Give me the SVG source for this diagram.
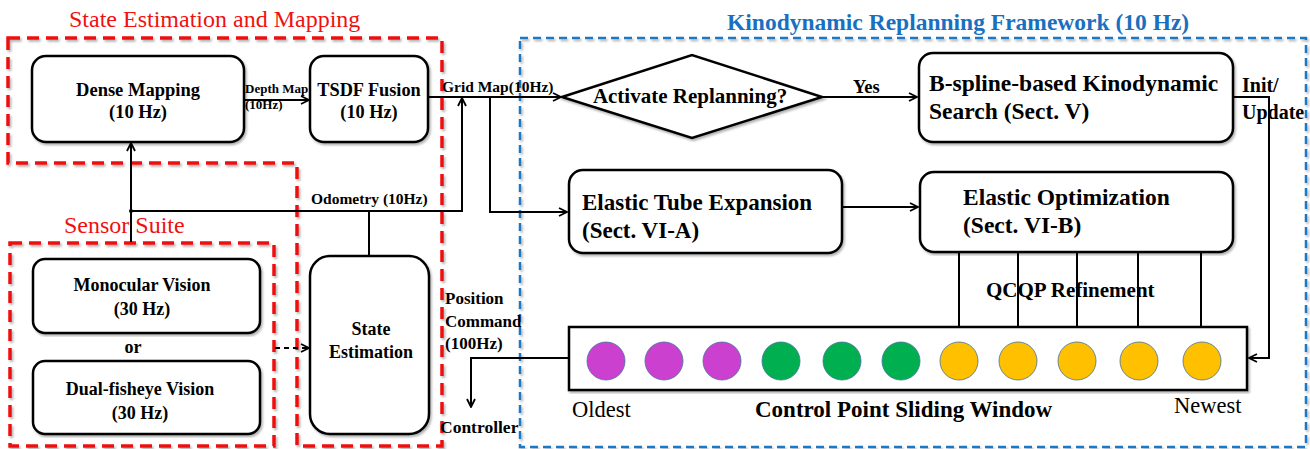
<svg xmlns="http://www.w3.org/2000/svg" width="1310" height="449" viewBox="0 0 1310 449">
<style>
text{font-family:"Liberation Serif","Times New Roman",serif;fill:#000}
.b{font-weight:bold}
.box{fill:#fff;stroke:#000;stroke-width:2.5;filter:url(#sh)}
.ln{fill:none;stroke:#000;stroke-width:2}
.red{fill:none;stroke:#f01010;stroke-width:3.5;stroke-dasharray:12 7;filter:url(#sh)}
.blue{fill:none;stroke:#1f77c4;stroke-width:2.5;stroke-dasharray:8 5;filter:url(#sh)}
.rt{fill:#f01010}
.mag{fill:#cc40d0;stroke:#41719c;stroke-width:0.8}
.grn{fill:#00b050;stroke:#41719c;stroke-width:0.8}
.yel{fill:#ffc000;stroke:#41719c;stroke-width:0.8}
</style>
<defs>
<filter id="sh" x="-5%" y="-5%" width="110%" height="110%">
<feDropShadow dx="1.5" dy="2" stdDeviation="1.2" flood-color="#000" flood-opacity="0.3"/>
</filter>
<marker id="ar" viewBox="0 0 10 10" refX="9" refY="5" markerWidth="10" markerHeight="10" markerUnits="userSpaceOnUse" orient="auto">
<path d="M1,1 L9,5 L1,9" fill="none" stroke="#000" stroke-width="1.8"/>
</marker>
</defs>

<g id="regions">
<path class="red" d="M8,38 H442 V446 H297 V163 H8 Z"/>
<rect class="red" x="10" y="243" width="264" height="203"/>
<rect class="blue" x="520" y="38" width="786" height="409"/>
<text class="rt" x="69" y="27" font-size="24" style="fill:#f01010">State Estimation and Mapping</text>
<text x="64" y="233" font-size="24" style="fill:#f01010">Sensor Suite</text>
<text class="b" x="727" y="30" font-size="23.5" style="fill:#1a70c0">Kinodynamic Replanning Framework (10 Hz)</text>
</g>

<g id="connectors">
<line class="ln" x1="244" y1="100" x2="309" y2="100" marker-end="url(#ar)"/>
<line class="ln" x1="428" y1="97" x2="561" y2="97" marker-end="url(#ar)"/>
<polyline class="ln" points="131,211 462,211 462,98" marker-end="url(#ar)"/>
<line class="ln" x1="131" y1="242" x2="131" y2="143" marker-end="url(#ar)"/>
<circle cx="131" cy="211" r="2" fill="#000"/>
<line class="ln" x1="369" y1="211" x2="369" y2="256"/>
<polyline class="ln" points="490,97 490,212 567,212" marker-end="url(#ar)"/>
<line class="ln" x1="822" y1="97" x2="917" y2="97" marker-end="url(#ar)"/>
<polyline class="ln" points="1233,97 1269,97 1269,358 1249,358" marker-end="url(#ar)"/>
<line class="ln" x1="842" y1="207" x2="918" y2="207" marker-end="url(#ar)"/>
<line class="ln" x1="959" y1="252" x2="959" y2="327"/>
<line class="ln" x1="1018" y1="252" x2="1018" y2="327"/>
<line class="ln" x1="1077" y1="252" x2="1077" y2="327"/>
<line class="ln" x1="1138" y1="252" x2="1138" y2="327"/>
<line class="ln" x1="1201" y1="252" x2="1201" y2="327"/>
<polyline class="ln" points="569,358 471,358 471,407" marker-end="url(#ar)"/>
<line class="ln" x1="275" y1="348" x2="309" y2="348" stroke-dasharray="5 4" marker-end="url(#ar)"/>
<text class="b" x="245" y="93" font-size="13">Depth Map</text>
<text class="b" x="245" y="109" font-size="13">(10Hz)</text>
<text class="b" x="442" y="92" font-size="15.5">Grid Map(10Hz)</text>
<text class="b" x="311" y="204" font-size="15.5">Odometry (10Hz)</text>
<text class="b" x="853" y="93" font-size="18.5">Yes</text>
<text class="b" x="1242" y="92" font-size="20">Init/</text>
<text class="b" x="1242" y="119" font-size="20">Update</text>
<text class="b" x="986" y="297" font-size="21">QCQP Refinement</text>
<text class="b" x="445" y="304" font-size="17">Position</text>
<text class="b" x="445" y="327" font-size="17">Command</text>
<text class="b" x="445" y="349" font-size="17">(100Hz)</text>
<text class="b" x="440" y="433" font-size="17.5">Controller</text>
</g>

<g id="dense-mapping">
<rect class="box" x="32" y="56" width="212" height="86" rx="14"/>
<text class="b" x="138" y="96" font-size="18.5" text-anchor="middle">Dense Mapping</text>
<text class="b" x="138" y="118" font-size="18.5" text-anchor="middle">(10 Hz)</text>
</g>
<g id="tsdf-fusion">
<rect class="box" x="310" y="56" width="118" height="86" rx="14"/>
<text class="b" x="369" y="96" font-size="18.3" text-anchor="middle">TSDF Fusion</text>
<text class="b" x="369" y="118" font-size="18.3" text-anchor="middle">(10 Hz)</text>
</g>
<g id="monocular">
<rect class="box" x="33" y="259" width="227" height="74" rx="12"/>
<text class="b" x="142" y="291" font-size="18" text-anchor="middle">Monocular Vision</text>
<text class="b" x="142" y="315" font-size="18" text-anchor="middle">(30 Hz)</text>
</g>
<g id="or">
<text class="b" x="133" y="353" font-size="18" text-anchor="middle">or</text>
</g>
<g id="dual-fisheye">
<rect class="box" x="33" y="361" width="227" height="73" rx="12"/>
<text class="b" x="140" y="395" font-size="18" text-anchor="middle">Dual-fisheye Vision</text>
<text class="b" x="140" y="419" font-size="18" text-anchor="middle">(30 Hz)</text>
</g>
<g id="state-estimation">
<rect class="box" x="310" y="256" width="119" height="178" rx="20"/>
<text class="b" x="371" y="335" font-size="18" text-anchor="middle">State</text>
<text class="b" x="371" y="358" font-size="18" text-anchor="middle">Estimation</text>
</g>
<g id="activate-replanning">
<polygon class="box" points="562,97 692,55 822,97 692,138"/>
<text class="b" x="690" y="103" font-size="21" text-anchor="middle">Activate Replanning?</text>
</g>
<g id="bspline-search">
<rect class="box" x="919" y="53" width="314" height="89" rx="14"/>
<text class="b" x="929" y="91" font-size="23.5">B-spline-based Kinodynamic</text>
<text class="b" x="929" y="119" font-size="23.5">Search (Sect. V)</text>
</g>
<g id="elastic-tube">
<rect class="box" x="569" y="170" width="273" height="83" rx="14"/>
<text class="b" x="582" y="210" font-size="23">Elastic Tube Expansion</text>
<text class="b" x="582" y="238" font-size="23">(Sect. VI-A)</text>
</g>
<g id="elastic-optimization">
<rect class="box" x="920" y="172" width="313" height="80" rx="14"/>
<text class="b" x="963" y="205" font-size="23.5">Elastic Optimization</text>
<text class="b" x="963" y="233" font-size="23.5">(Sect. VI-B)</text>
</g>
<g id="sliding-window">
<rect class="box" x="569" y="327" width="678" height="63" rx="0"/>
<circle class="mag" cx="606" cy="361" r="19"/>
<circle class="mag" cx="664" cy="361" r="19"/>
<circle class="mag" cx="722" cy="361" r="19"/>
<circle class="grn" cx="781" cy="361" r="19"/>
<circle class="grn" cx="842" cy="361" r="19"/>
<circle class="grn" cx="901" cy="361" r="19"/>
<circle class="yel" cx="959" cy="361" r="19"/>
<circle class="yel" cx="1018" cy="361" r="19"/>
<circle class="yel" cx="1077" cy="361" r="19"/>
<circle class="yel" cx="1139" cy="361" r="19"/>
<circle class="yel" cx="1202" cy="361" r="19"/>
<text x="572" y="417" font-size="22.5">Oldest</text>
<text class="b" x="755" y="417" font-size="23">Control Point Sliding Window</text>
<text x="1174" y="413" font-size="22.5">Newest</text>
</g>
</svg>
